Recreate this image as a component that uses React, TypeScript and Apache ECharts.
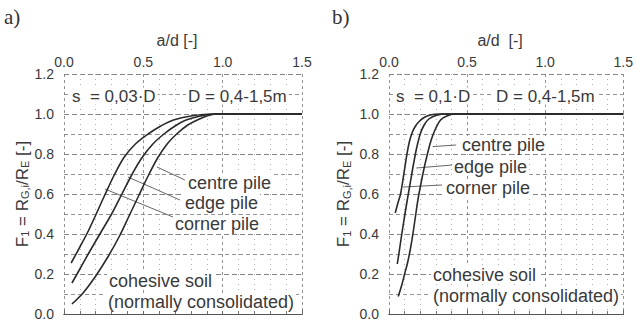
import React, { useEffect, useRef } from "react";
import * as echarts from "echarts";

// ---- data (a/d, F1) ----
const xTicks = [0, 0.5, 1.0, 1.5];
const yTicks = [0, 0.2, 0.4, 0.6, 0.8, 1.0, 1.2];

// panel a) s = 0,03·D
const aCorner: [number, number][] = [
  [0.045, 0.255], [0.1, 0.335], [0.15, 0.41], [0.2, 0.495], [0.26, 0.6], [0.32, 0.7],
  [0.38, 0.785], [0.45, 0.85], [0.53, 0.9], [0.61, 0.94], [0.69, 0.97], [0.8, 0.99],
  [0.94, 1.0], [1.2, 1.0], [1.5, 1.0],
];
const aEdge: [number, number][] = [
  [0.05, 0.155], [0.1, 0.225], [0.16, 0.31], [0.23, 0.405], [0.3, 0.5], [0.365, 0.6],
  [0.43, 0.7], [0.49, 0.78], [0.56, 0.85], [0.63, 0.9], [0.7, 0.94], [0.77, 0.97],
  [0.86, 0.99], [0.95, 1.0], [1.2, 1.0], [1.5, 1.0],
];
const aCentre: [number, number][] = [
  [0.05, 0.05], [0.12, 0.105], [0.2, 0.19], [0.28, 0.29], [0.35, 0.39], [0.41, 0.49],
  [0.47, 0.59], [0.53, 0.69], [0.59, 0.78], [0.65, 0.85], [0.71, 0.9], [0.78, 0.945],
  [0.84, 0.97], [0.9, 0.99], [0.96, 1.0], [1.2, 1.0], [1.5, 1.0],
];

// panel b) s = 0,1·D
const bCorner: [number, number][] = [
  [0.04, 0.505], [0.057, 0.555], [0.074, 0.6], [0.095, 0.7], [0.115, 0.8], [0.13, 0.86],
  [0.15, 0.91], [0.17, 0.94], [0.196, 0.965], [0.23, 0.985], [0.27, 0.996], [0.32, 1.0],
  [0.8, 1.0], [1.5, 1.0],
];
const bEdge: [number, number][] = [
  [0.053, 0.25], [0.065, 0.31], [0.08, 0.39], [0.098, 0.48], [0.117, 0.57], [0.137, 0.66],
  [0.157, 0.75], [0.177, 0.83], [0.2, 0.9], [0.225, 0.945], [0.255, 0.975], [0.3, 0.993],
  [0.37, 1.0], [0.8, 1.0], [1.5, 1.0],
];
const bCentre: [number, number][] = [
  [0.059, 0.087], [0.08, 0.14], [0.1, 0.2], [0.12, 0.26], [0.138, 0.33], [0.153, 0.4],
  [0.168, 0.48], [0.185, 0.57], [0.204, 0.65], [0.225, 0.73], [0.246, 0.8], [0.27, 0.87],
  [0.3, 0.93], [0.33, 0.97], [0.37, 0.99], [0.42, 1.0], [0.8, 1.0], [1.5, 1.0],
];

// leader lines (data coords: from curve to label)
const aLeaders: [number, number][][] = [
  [[0.586, 0.735], [0.762, 0.67]],
  [[0.403, 0.685], [0.731, 0.57]],
  [[0.258, 0.625], [0.687, 0.485]],
];
const bLeaders: [number, number][][] = [
  [[0.28, 0.837], [0.43, 0.845]],
  [[0.175, 0.73], [0.405, 0.745]],
  [[0.09, 0.635], [0.34, 0.645]],
];

const pileLabels = ["centre pile", "edge pile", "corner pile"];
const soilLabels = ["cohesive soil", "(normally consolidated)"];
const spacingLabels = ["s  = 0,03·D", "s  = 0,1·D"];
const diameterLabel = "D = 0,4-1,5m";
const panelLabels = ["a)", "b)"];
const xName = ["a/d [-]", "a/d  [-]"];

const FONT = "'Liberation Sans', Arial, sans-serif";
const TXT = "#3a3a3a";
const CURVE = "#2a2a2a";

export default function App() {
  const ref = useRef<HTMLDivElement>(null);
  useEffect(() => {
    if (!ref.current) return;
    const chart = echarts.init(ref.current, undefined, { renderer: "svg" });

    const grids = [
      { left: 64, top: 74, width: 238, height: 240 },
      { left: 389, top: 74, width: 237, height: 240 },
    ];

    const xAxes: any[] = [];
    const yAxes: any[] = [];
    [0, 1].forEach((g) => {
      xAxes.push({
        gridIndex: g,
        type: "value",
        position: "top",
        min: xTicks[0],
        max: xTicks[xTicks.length - 1],
        interval: 0.5,
        name: xName[g],
        nameLocation: "middle",
        nameGap: 26,
        nameTextStyle: { fontFamily: FONT, fontSize: 16, color: TXT, padding: [0, 12, 0, 0] },
        axisLine: { show: true, lineStyle: { color: "#555", width: 1.2 } },
        axisTick: { show: false },
        minorTick: { show: true, splitNumber: 5, length: 3, lineStyle: { color: "#777" } },
        axisLabel: {
          margin: 5,
          fontFamily: FONT,
          fontSize: 14,
          color: TXT,
          formatter: (v: number) => v.toFixed(1),
        },
        splitLine: { show: true, lineStyle: { color: "#777", type: [3, 3], width: 0.8 } },
        minorSplitLine: { show: true, lineStyle: { color: "#999", type: [1, 4], width: 0.8 } },
      });
      xAxes.push({
        gridIndex: g,
        type: "value",
        position: "bottom",
        min: xTicks[0],
        max: xTicks[xTicks.length - 1],
        interval: 0.5,
        axisLine: { show: true, lineStyle: { color: "#555", width: 1.2 } },
        axisTick: { show: true, inside: true, length: 4, lineStyle: { color: "#666" } },
        axisLabel: { show: false },
        splitLine: { show: false },
      });
      yAxes.push({
        gridIndex: g,
        type: "value",
        min: yTicks[0],
        max: yTicks[yTicks.length - 1],
        interval: 0.2,
        name: "{m|F}{s|1}{m| = R}{s|G,i}{m|/R}{s|E}{m| [-]}",
        nameLocation: "middle",
        nameRotate: 90,
        nameGap: g === 0 ? 24 : 37,
        nameTextStyle: {
          color: TXT,
          rich: {
            m: { fontFamily: FONT, fontSize: 17, color: TXT, lineHeight: 20, verticalAlign: "bottom" },
            s: { fontFamily: FONT, fontSize: 11, color: TXT, lineHeight: 14, verticalAlign: "bottom" },
          },
        },
        axisLine: { show: false },
        axisTick: { show: false },
        axisLabel: {
          margin: 10,
          fontFamily: FONT,
          fontSize: 14,
          color: TXT,
          formatter: (v: number) => v.toFixed(1),
        },
        splitLine: { show: true, lineStyle: { color: "#666", type: [5, 3], width: 0.8 } },
        minorTick: { show: false, splitNumber: 2 },
        minorSplitLine: { show: true, lineStyle: { color: "#777", type: [4, 3], width: 0.8 } },
      });
    });

    const curve = (data: [number, number][], g: number) => ({
      type: "line",
      xAxisIndex: g * 2,
      yAxisIndex: g,
      data,
      smooth: 0.35,
      symbol: "none",
      lineStyle: { color: CURVE, width: 1.6 },
      z: 5,
    });
    const leader = (data: [number, number][], g: number) => ({
      type: "line",
      xAxisIndex: g * 2,
      yAxisIndex: g,
      data,
      symbol: "none",
      lineStyle: { color: "#555", width: 0.9 },
      z: 4,
    });

    const series: any[] = [
      curve(aCorner, 0), curve(aEdge, 0), curve(aCentre, 0),
      curve(bCorner, 1), curve(bEdge, 1), curve(bCentre, 1),
      ...aLeaders.map((d) => leader(d, 0)),
      ...bLeaders.map((d) => leader(d, 1)),
    ];

    const txt = (text: string, x: number, y: number, size = 17, bg = true) => ({
      type: "text",
      x,
      y,
      z: 100,
      style: {
        text,
        fontFamily: FONT,
        fontSize: size,
        fill: TXT,
        textAlign: "left",
        textVerticalAlign: "middle",
        backgroundColor: bg ? "#fff" : undefined,
        padding: bg ? [0, 2] : 0,
      },
    });
    const serifTxt = (text: string, x: number, y: number) => ({
      type: "text",
      x,
      y,
      z: 100,
      style: {
        text,
        fontFamily: "'Liberation Serif', 'Times New Roman', serif",
        fontSize: 21,
        fill: "#333",
        textAlign: "left",
        textVerticalAlign: "middle",
      },
    });

    const graphic: any[] = [
      serifTxt(panelLabels[0], 4, 17),
      serifTxt(panelLabels[1], 332, 17),
      txt(spacingLabels[0], 70, 96, 17),
      txt(diameterLabel, 186, 96, 17),
      txt(spacingLabels[1], 394, 96, 17),
      txt(diameterLabel, 494, 96, 17),
      txt(pileLabels[0], 186, 183, 18),
      txt(pileLabels[1], 183, 203, 18),
      txt(pileLabels[2], 173, 224, 18),
      txt(soilLabels[0], 107, 281, 18),
      txt(soilLabels[1], 106, 302, 18),
      txt(pileLabels[0], 460, 145, 18),
      txt(pileLabels[1], 452, 167, 18),
      txt(pileLabels[2], 444, 188, 18),
      txt(soilLabels[0], 431, 275, 18),
      txt(soilLabels[1], 431, 296, 18),
    ];

    chart.setOption({
      animation: false,
      backgroundColor: "#fff",
      grid: grids,
      xAxis: xAxes,
      yAxis: yAxes,
      series,
      graphic,
    });
    return () => chart.dispose();
  }, []);
  return <div ref={ref} style={{ width: 636, height: 327, position: "absolute", left: 0, top: 0 }} />;
}
